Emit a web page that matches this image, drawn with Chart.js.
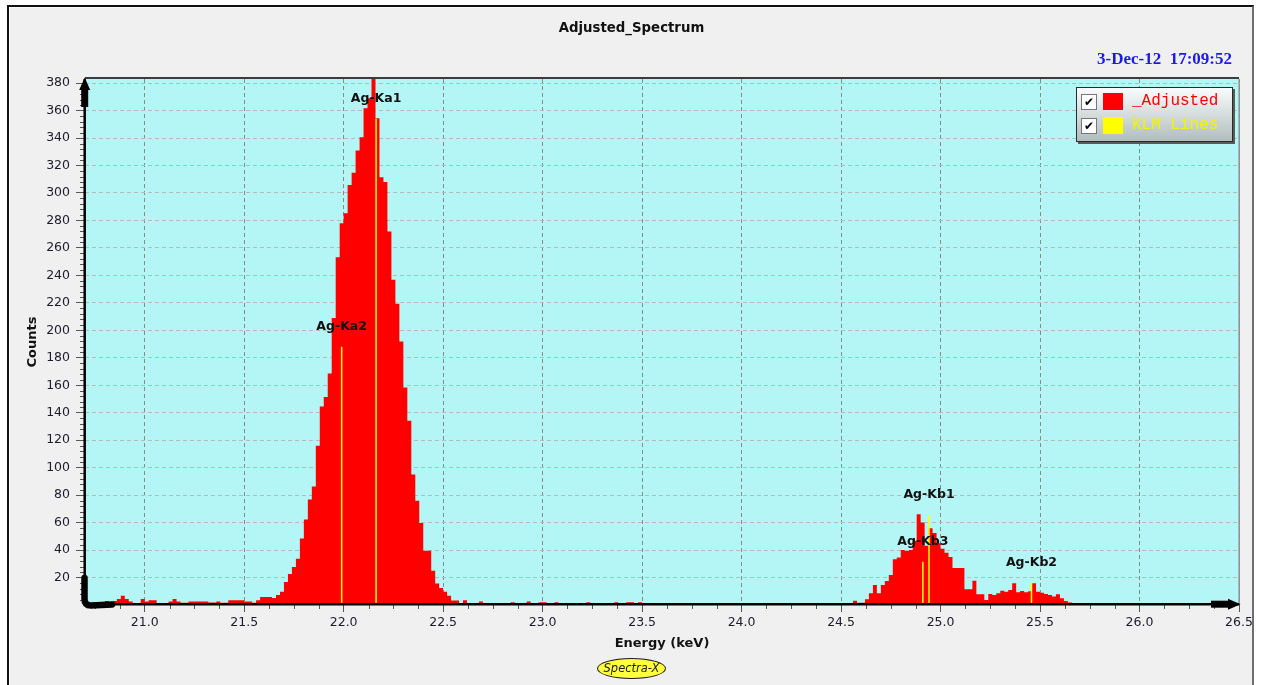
<!DOCTYPE html>
<html>
<head>
<meta charset="utf-8">
<title>Adjusted_Spectrum</title>
<script src="https://cdn.jsdelivr.net/npm/chart.js@4.4.1/dist/chart.umd.min.js"></script>
<style>
  html, body { margin: 0; padding: 0; background: #ffffff; }
  body { width: 1263px; height: 685px; position: relative; overflow: hidden; font-family: "DejaVu Sans", sans-serif; }
  #panel { position: absolute; left: 7px; top: 5px; width: 1243px; height: 700px; background: #f0f0f0;
           border-left: 2px solid #111; border-top: 2px solid #111; border-right: 2px solid #6e6e6e;
           box-shadow: inset 1px 1px 0 #fbfbfb; }
  #spectrum { position: absolute; left: 0; top: 0; }
  #title { position: absolute; left: 0; top: 20px; width: 1263px; text-align: center;
           font: bold 13.3px "DejaVu Sans"; line-height: 16px; color: #111; }
  #stamp { position: absolute; right: 31px; top: 50px; font: bold 17px "Liberation Serif";
           line-height: 18px; color: #1a1aee; white-space: pre; }
  #legend { position: absolute; left: 1076px; top: 87px; width: 155px; height: 53px;
            border: 1px solid #2a2a2a; background: linear-gradient(#fafcfc, #b1bdbd);
            box-shadow: 2px 2px 0 #5a5a5a; }
  #legend .row { position: absolute; left: 0; width: 155px; height: 17px; }
  #legend .box { position: absolute; left: 4px; top: 1px; width: 14px; height: 14px; border: 1px solid #777;
                 background: #fff; font: bold 12px "DejaVu Sans"; line-height: 14px; text-align: center; color: #000; }
  #legend .swatch { position: absolute; left: 26px; top: 0; width: 20px; height: 17px; }
  #legend .name { position: absolute; left: 55px; top: 0; font: 16px "Liberation Mono"; line-height: 17px; white-space: pre; }
  #badge { position: absolute; left: 597px; top: 658px; width: 67px; height: 19px; border: 1px solid #1a1a1a;
           border-radius: 50%; background: #ffff3c; font: italic 11.5px "DejaVu Sans"; line-height: 19px;
           text-align: center; color: #1a1a1a; }
</style>
</head>
<body>
<div id="panel"></div>
<canvas id="spectrum" width="1263" height="685"></canvas>
<div id="title">Adjusted_Spectrum</div>
<div id="stamp">3-Dec-12  17:09:52</div>
<div id="legend">
  <div class="row" style="top:5px"><span class="box">&#10004;</span><span class="swatch" style="background:#ff0000"></span><span class="name" style="color:#ff0000">_Adjusted</span></div>
  <div class="row" style="top:29px"><span class="box">&#10004;</span><span class="swatch" style="background:#ffff00"></span><span class="name" style="color:#f4f400">KLM Lines</span></div>
</div>
<div id="badge">Spectra-X</div>

<script>
// Spectrum calibration: channel centres start at 20.71 keV, 20 eV per channel
const firstChannel = 20.71;
const channelWidth = 0.02;

// Counts per channel, ten channels (0.2 keV) per row
const counts = [
  2, 1, 2, 1, 2, 3, 2, 3, 4.4, 6.8,                                   // 20.71 - 20.89
  4.4, 2.6, 0.5, 0.5, 4.4, 2.6, 3.4, 3.4, 1, 1,                       // 20.91 - 21.09
  1, 2.6, 4.4, 2.6, 1.7, 1.7, 2.6, 2.6, 2.6, 2.6,                     // 21.11 - 21.29
  2.6, 1.9, 1.9, 2.6, 1.7, 1.7, 3.4, 3.4, 3.4, 3.4,                   // 21.31 - 21.49
  2.6, 2.6, 1.7, 3.5, 5.8, 5.8, 5.8, 5.1, 7.3, 9.7,                   // 21.51 - 21.69
  16.7, 22.6, 27.7, 33.7, 48.5, 62.3, 76.9, 86.3, 115.9, 144.5,       // 21.71 - 21.89
  151.4, 168.6, 208.9, 253.3, 278, 285.3, 305.9, 314.8, 330.9, 340.6, // 21.91 - 22.09
  361.7, 369, 383, 354.4, 311.5, 308, 271.9, 236.8, 219.3, 191.8,     // 22.11 - 22.29
  158.4, 134.1, 95, 75.9, 59.7, 39.5, 39.5, 25, 15.7, 12.4,           // 22.31 - 22.49
  9.7, 6.8, 3.3, 3.3, 1, 3.5, 0, 0, 0, 2.5,                           // 22.51 - 22.69
  0, 0, 0, 0, 0, 0, 0, 2, 0, 0,                                       // 22.71 - 22.89
  0, 2.5, 0, 0, 2, 2, 0, 0, 2, 0,                                     // 22.91 - 23.09
  0, 0, 0, 0, 0, 0, 2, 0, 0, 0,                                       // 23.11 - 23.29
  0, 0, 0, 2, 0, 0, 2, 2, 0, 2,                                       // 23.31 - 23.49
  0, 0, 0, 0, 0, 0, 0, 0, 0, 0,                                       // 23.51 - 23.69
  0, 0, 0, 0, 0, 0, 0, 0, 0, 0,                                       // 23.71 - 23.89
  0, 0, 0, 1.5, 0, 0, 0, 0, 0, 0,                                     // 23.91 - 24.09
  0, 0, 0, 0, 0, 0, 0, 0, 0, 0,                                       // 24.11 - 24.29
  0, 0, 0, 0, 0, 0, 0, 1.5, 0, 1,                                     // 24.31 - 24.49
  1, 1, 1, 3.1, 1.7, 1.7, 4.1, 8.5, 14.6, 8.5,                        // 24.51 - 24.69
  14.6, 17.5, 21.8, 33.3, 34.5, 40.1, 39.4, 40.1, 46.7, 66,           // 24.71 - 24.89
  60, 43.1, 55.9, 52.4, 45, 41, 38, 35, 27, 27,                       // 24.91 - 25.09
  27, 11.4, 11.4, 17.7, 7.8, 7.8, 3.6, 8, 7.3, 8.5,                   // 25.11 - 25.29
  10.4, 9.7, 10.9, 15.8, 9.2, 10.2, 9.2, 10, 15.8, 9.7,               // 25.31 - 25.49
  9, 8, 7.3, 6.1, 7.8, 4.9, 2.9, 1.9, 0, 0,                           // 25.51 - 25.69
  0, 0, 0, 0, 0, 0, 0, 0, 0, 0,                                       // 25.71 - 25.89
  0, 0, 0, 0, 0, 0, 0, 0, 0, 0,                                       // 25.91 - 26.09
  0, 0, 0, 0, 0, 0, 0, 0, 0, 0,                                       // 26.11 - 26.29
  0, 0, 0, 0, 0, 0, 0, 0, 0, 0                                        // 26.31 - 26.49
];

// Silver K lines (keV) and their marker heights (counts)
const klmNames    = ['Ag-Ka2', 'Ag-Ka1', 'Ag-Kb3', 'Ag-Kb1', 'Ag-Kb2'];
const klmEnergies = [21.990, 22.163, 24.911, 24.942, 25.457];
const klmHeights  = [188, 354, 31.5, 65.5, 16.5];

// Axis tick labels
const xTicks = [21.0, 21.5, 22.0, 22.5, 23.0, 23.5, 24.0, 24.5, 25.0, 25.5, 26.0, 26.5];
const yTicks = [20, 40, 60, 80, 100, 120, 140, 160, 180, 200, 220, 240, 260, 280, 300, 320, 340, 360, 380];

const spectrumPoints = counts.map((c, i) => ({ x: +(firstChannel + i * channelWidth).toFixed(2), y: c }));
const klmPoints = klmEnergies.flatMap((e, i) => [{ x: e, y: 0 }, { x: e, y: klmHeights[i] }, { x: e, y: null }]);

// Plot background, peak labels, minor ticks and the arrowed axes
const plotFrame = {
  id: 'plotFrame',
  beforeDraw(chart) {
    const { ctx, chartArea: a } = chart;
    ctx.save();
    ctx.fillStyle = '#b4f5f5';
    ctx.fillRect(a.left, a.top, a.right - a.left, a.bottom - a.top);
    ctx.restore();
  },
  afterDatasetsDraw(chart) {
    const { ctx, scales: { x, y } } = chart;
    ctx.save();
    ctx.font = 'bold 12.5px "DejaVu Sans"';
    ctx.fillStyle = '#111';
    ctx.textAlign = 'center';
    ctx.textBaseline = 'middle';
    klmNames.forEach((name, i) => {
      ctx.fillText(name, x.getPixelForValue(klmEnergies[i]), y.getPixelForValue(klmHeights[i]) - 20);
    });
    ctx.restore();
  },
  afterDraw(chart) {
    const { ctx, chartArea: a, scales: { x, y } } = chart;
    const line = (x1, y1, x2, y2) => { ctx.beginPath(); ctx.moveTo(x1, y1); ctx.lineTo(x2, y2); ctx.stroke(); };
    ctx.save();

    // minor ticks: every 4 counts and every 0.125 keV
    ctx.strokeStyle = '#555';
    ctx.lineWidth = 1;
    for (let v = 4; v <= 380; v += 4) {
      if (v % 20 === 0) continue;
      const py = Math.round(y.getPixelForValue(v)) + 0.5;
      line(a.left - 5, py, a.left, py);
    }
    for (let k = Math.ceil(x.min * 8); k <= Math.floor(x.max * 8); k++) {
      if (k % 4 === 0) continue;
      const px = Math.round(x.getPixelForValue(k / 8)) + 0.5;
      line(px, a.bottom, px, a.bottom + 4);
    }

    // frame lines on the top and right of the plot
    ctx.strokeStyle = '#3c3c3c';
    ctx.lineWidth = 2;
    line(a.left, a.top - 1, a.right, a.top - 1);
    ctx.strokeStyle = '#8e8e8e';
    ctx.lineWidth = 1.5;
    line(a.right + 0.2, a.top, a.right + 0.2, a.bottom);

    // axes
    ctx.strokeStyle = '#000';
    ctx.fillStyle = '#000';
    ctx.lineWidth = 2.5;
    line(a.left - 0.3, a.top, a.left - 0.3, a.bottom);
    line(a.left, a.bottom - 0.8, a.right, a.bottom - 0.8);

    // arrow at the top of the count axis
    ctx.beginPath();
    ctx.moveTo(a.left - 0.3, a.top - 1.5);
    ctx.lineTo(a.left + 5.2, a.top + 11);
    ctx.lineTo(a.left - 5.8, a.top + 11);
    ctx.closePath();
    ctx.fill();
    ctx.fillRect(a.left - 3.8, a.top + 9, 7, 19);

    // arrow at the right end of the energy axis
    ctx.beginPath();
    ctx.moveTo(a.right + 1.5, a.bottom - 0.8);
    ctx.lineTo(a.right - 11, a.bottom - 6.3);
    ctx.lineTo(a.right - 11, a.bottom + 4.7);
    ctx.closePath();
    ctx.fill();
    ctx.fillRect(a.right - 28, a.bottom - 4.3, 19, 7);

    // heavy tails where the two axes meet
    ctx.lineWidth = 6.5;
    ctx.lineJoin = 'round';
    ctx.lineCap = 'round';
    ctx.beginPath();
    ctx.moveTo(a.left - 0.5, a.bottom - 27);
    ctx.lineTo(a.left - 0.5, a.bottom - 6);
    ctx.quadraticCurveTo(a.left - 0.5, a.bottom + 0.5, a.left + 6, a.bottom + 0.5);
    ctx.lineTo(a.left + 27, a.bottom - 0.5);
    ctx.stroke();

    ctx.restore();
  }
};

const tickFont = { family: 'DejaVu Sans', size: 12.5 };
const titleFont = { family: 'DejaVu Sans', size: 13, weight: 'bold' };

new Chart(document.getElementById('spectrum'), {
  type: 'line',
  data: {
    datasets: [
      {
        label: 'KLM Lines',
        data: klmPoints,
        borderColor: '#ffff00',
        borderWidth: 1.5,
        pointRadius: 0,
        fill: false,
        spanGaps: false,
        order: 0
      },
      {
        label: '_Adjusted',
        data: spectrumPoints,
        stepped: 'middle',
        fill: 'origin',
        backgroundColor: '#ff0000',
        borderColor: '#ff0000',
        borderWidth: 0,
        pointRadius: 0,
        order: 1
      }
    ]
  },
  options: {
    responsive: false,
    animation: false,
    devicePixelRatio: 1,
    events: [],
    layout: { padding: { left: 10, top: 79, right: 24, bottom: 30 } },
    plugins: {
      legend: { display: false },
      title: { display: false },
      tooltip: { enabled: false }
    },
    scales: {
      x: {
        type: 'linear',
        min: 20.7,
        max: 26.5,
        afterBuildTicks: (s) => { s.ticks = xTicks.map((v) => ({ value: v })); },
        afterFit: (s) => { s.height = 50; },
        ticks: {
          autoSkip: false,
          maxRotation: 0,
          padding: 3,
          color: '#1c1c2c',
          font: tickFont,
          callback: (v) => Number(v).toFixed(1)
        },
        grid: { color: '#8a8a8a', lineWidth: 1, tickLength: 7, tickColor: '#555', tickBorderDash: [] },
        border: { display: false, dash: [4, 3] },
        title: { display: true, text: 'Energy (keV)', color: '#111', font: titleFont, padding: { top: 0, bottom: 4 } }
      },
      y: {
        min: 0,
        max: 383,
        afterBuildTicks: (s) => { s.ticks = yTicks.map((v) => ({ value: v })); },
        afterFit: (s) => { s.width = 75; },
        ticks: { padding: 6, color: '#1c1c2c', font: tickFont },
        grid: { color: '#b9b9b9', lineWidth: 1, tickLength: 9, tickColor: '#555', tickBorderDash: [] },
        border: { display: false, dash: [4, 3] },
        title: { display: true, text: 'Counts', color: '#111', font: titleFont, padding: { top: 15, bottom: 0 } }
      }
    }
  },
  plugins: [plotFrame]
});
</script>
</body>
</html>
